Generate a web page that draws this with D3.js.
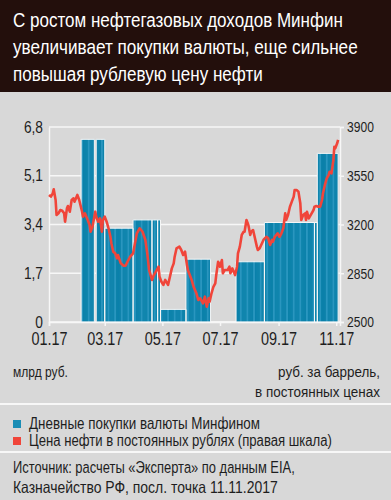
<!DOCTYPE html>
<html><head><meta charset="utf-8">
<script src="https://cdn.jsdelivr.net/npm/d3@7/dist/d3.min.js"></script>
<style>
html,body{margin:0;padding:0;background:#d8d8d8;}
svg text{font-family:"Liberation Sans",Arimo,sans-serif;}
</style></head>
<body><svg id="c" width="391" height="500"></svg>
<script>
// ---- data ----
const titleLines = ["С ростом нефтегазовых доходов Минфин","увеличивает покупки валюты, еще сильнее","повышая рублевую цену нефти"];
// purchase periods (start/end dates) and daily FX purchases, bn rub
const periodStart = ["2017-02-04","2017-02-20","2017-03-01","2017-03-31","2017-04-20","2017-04-26","2017-04-29","2017-05-26","2017-06-21","2017-07-18","2017-08-17","2017-10-09","2017-10-12"];
const periodEnd   = ["2017-02-18","2017-03-01","2017-03-31","2017-04-20","2017-04-26","2017-04-29","2017-05-26","2017-06-21","2017-07-18","2017-08-17","2017-10-09","2017-10-12","2017-11-03"];
const purchases   = [6.37,6.37,3.27,3.56,3.56,3.56,0.44,2.19,0,2.10,3.47,3.47,5.88];
// oil price in constant rubles: day of 2017 (0 = 1 Jan) and value
const oilDay = [0,2,4,5,7,8,10,12,14,16,17,19,20,22,24,26,27,30,32,35,36,38,41,43,44,46,49,50,52,54,56,57,59,61,63,65,66,68,70,72,73,76,79,81,84,86,89,91,93,96,99,102,104,106,109,111,114,116,117,119,121,123,126,128,130,132,133,135,138,140,142,144,146,147,149,151,153,156,158,160,163,165,167,169,170,172,174,176,177,179,181,183,184,186,189,191,192,194,197,199,200,202,204,206,207,209,211,213,214,216,218,220,221,223,227,230,232,234,236,237,239,242,244,246,248,250,251,253,255,257,259,260,262,264,266,267,269,271,272,273,275,276,278,280,281,283,285,287,289,290,292,294,296,297,299,301,302,303,305,306];
const oilPrice = [3412,3400,3424,3453,3376,3268,3280,3304,3299,3280,3220,3316,3333,3292,3376,3388,3364,3412,3376,3292,3256,3280,3232,3196,3148,3184,3292,3256,3220,3244,3148,3232,3256,3220,3173,3112,3065,3005,2993,2957,2981,2921,2904,2904,2945,2969,2993,3065,3137,3173,3148,3089,2993,2873,2802,2837,2873,2897,2825,2789,2766,2802,2766,2825,2885,2921,2969,3029,3041,3017,2981,3005,2909,2873,2837,2802,2753,2706,2658,2670,2634,2682,2610,2670,2646,2706,2753,2778,2837,2933,2897,2945,2850,2873,2873,2897,2850,2885,2837,2897,2993,3041,3125,3148,3148,3232,3196,3125,3148,3160,3101,3041,3017,3029,3089,3112,3101,3053,3089,3077,3112,3137,3112,3137,3173,3280,3232,3268,3328,3364,3400,3448,3448,3436,3352,3232,3268,3280,3232,3292,3244,3256,3280,3304,3328,3333,3328,3328,3376,3424,3484,3532,3555,3579,3567,3663,3758,3747,3783,3807];
const xTicks = ["2017-01-01","2017-03-01","2017-05-01","2017-07-01","2017-09-01","2017-11-01"];
const leftTicks = [0,1.7,3.4,5.1,6.8];
const rightTicks = [2500,2850,3200,3550,3900];
const legendItems = ["Дневные покупки валюты Минфином","Цена нефти в постоянных рублях (правая шкала)"];
const sourceLines = ["Источник: расчеты «Эксперта» по данным EIA,","Казначейство РФ, посл. точка 11.11.2017"];

// ---- drawing ----
const svg = d3.select("#c");
const BG="#d8d8d8", BLUE="#0a80a9", BLUE_L="#2a96bf", RED="#f0453a", WHITE="#f7f7f7", INK="#1e1e1e";
const parse = d3.timeParse("%Y-%m-%d");
const base = new Date(2017,0,1);
const L=49, R=340, T=127, B=322;
// squeeze text horizontally (narrow typeface of the original) by a factor, or to a target width
function squeeze(sel, f){
  sel.each(function(){
    const t = d3.select(this);
    const x0 = +(t.attr("x")||0);
    t.attr("x", x0/f).attr("transform", `scale(${f},1)`);
  });
}
function fitW(sel, w){
  sel.each(function(){
    const nat = this.getComputedTextLength();
    squeeze(d3.select(this), w/nat);
  });
}

svg.append("rect").attr("width",391).attr("height",500).attr("fill",BG);
svg.append("rect").attr("width",391).attr("height",92).attr("fill","#230f0c");
const titleW = [330,345,250];
svg.append("g").selectAll("text").data(titleLines).join("text")
  .attr("x",13).attr("y",(d,i)=>27+i*27).attr("fill","#fff")
  .attr("font-size",21).text(d=>d)
  .each(function(d,i){ fitW(d3.select(this), titleW[i]); });

const x = d3.scaleTime().domain([new Date(2017,0,1), new Date(2017,10,5)]).range([L,R]);
const yL = d3.scaleLinear().domain([0,6.8]).range([B,T]);
const yR = d3.scaleLinear().domain([2500,3900]).range([B,T]);

// gridlines
svg.append("g").selectAll("line").data(leftTicks).join("line")
  .attr("x1",L).attr("x2",R).attr("y1",d=>yL(d)).attr("y2",d=>yL(d))
  .attr("stroke",WHITE).attr("stroke-width",1.5);

// bars
const periods = periodStart.map((s,i)=>({s:parse(s), e:parse(periodEnd[i]), v:purchases[i]}));
const gBars = svg.append("g");
periods.filter(p=>p.v>0).forEach(p=>{
  gBars.append("rect").attr("x",x(p.s)).attr("width",x(p.e)-x(p.s))
    .attr("y",yL(p.v)).attr("height",yL(0)-yL(p.v)).attr("fill",BLUE_L);
  const days = d3.timeDay.range(p.s,p.e).filter(d=>d.getDay()!==0 && d.getDay()!==6);
  gBars.append("g").selectAll("rect").data(days).join("rect")
    .attr("x",d=>x(d)).attr("width",d=>x(d3.timeDay.offset(d,1))-x(d))
    .attr("y",yL(p.v)).attr("height",yL(0)-yL(p.v)).attr("fill",BLUE);
});
gBars.append("g").selectAll("path").data(periods).join("path")
  .attr("d",p=>`M${x(p.s)},${yL(0)}V${yL(p.v)}H${x(p.e)}V${yL(0)}Z`)
  .attr("fill","none").attr("stroke",WHITE).attr("stroke-width",1);

// axes
const fmtComma = d=>String(d).replace(".",",");
const gl = svg.append("g").attr("transform",`translate(${L},0)`)
  .call(d3.axisLeft(yL).tickValues(leftTicks).tickFormat(fmtComma).tickSize(0).tickPadding(6));
const gr = svg.append("g").attr("transform",`translate(${R},0)`)
  .call(d3.axisRight(yR).tickValues(rightTicks).tickFormat(d3.format("d")).tickSize(4).tickPadding(3));
const gb = svg.append("g").attr("transform",`translate(0,${B})`)
  .call(d3.axisBottom(x).tickValues(xTicks.map(parse)).tickFormat(d3.timeFormat("%m.%y")).tickSize(4).tickPadding(6));
[gl,gr,gb].forEach(g=>{
  g.select(".domain").attr("stroke",WHITE).attr("stroke-width",1.5);
  g.selectAll(".tick line").attr("stroke",WHITE).attr("stroke-width",1.5);
  g.selectAll("text").attr("fill",INK).attr("font-family",null);
});
gl.selectAll("text").attr("font-size",16).call(squeeze,0.86);
gr.selectAll("text").attr("font-size",15.5).call(squeeze,0.78);
gb.selectAll("text").attr("font-size",18.5).call(squeeze,0.78);

// oil line
const oil = oilDay.map((d,i)=>({d:d3.timeDay.offset(base,d), v:oilPrice[i]}));
svg.append("path").datum(oil)
  .attr("d",d3.line().x(d=>x(d.d)).y(d=>yR(d.v)))
  .attr("fill","none").attr("stroke",RED).attr("stroke-width",2.6).attr("stroke-linejoin","round");

// axis notes
svg.append("text").attr("x",13).attr("y",377).attr("font-size",15.5).attr("fill",INK).text("млрд руб.").call(fitW,55);
svg.append("text").attr("x",380).attr("y",377).attr("font-size",15.5).attr("fill",INK).attr("text-anchor","end").text("руб. за баррель,").call(fitW,102);
svg.append("text").attr("x",380).attr("y",397).attr("font-size",15.5).attr("fill",INK).attr("text-anchor","end").text("в постоянных ценах").call(fitW,125);

// separators
[404,452].forEach(yy=>svg.append("line").attr("x1",0).attr("x2",391).attr("y1",yy).attr("y2",yy).attr("stroke",WHITE).attr("stroke-width",2));

// legend
const legendW = [231,303];
const lg = svg.append("g").selectAll("g").data(legendItems).join("g")
  .attr("transform",(d,i)=>`translate(13,${420+i*17})`);
lg.append("rect").attr("width",8).attr("height",8).attr("fill",(d,i)=>i?RED:"#1a8db5");
lg.append("text").attr("x",16).attr("y",8.5).attr("font-size",16).attr("fill",INK).text(d=>d)
  .each(function(d){ fitW(d3.select(this), legendW[legendItems.indexOf(d)]); });

// source
const sourceW = [282,265];
svg.append("g").selectAll("text").data(sourceLines).join("text")
  .attr("x",13).attr("y",(d,i)=>473+i*20).attr("font-size",16.5).attr("fill",INK).text(d=>d)
  .each(function(d,i){ fitW(d3.select(this), sourceW[i]); });
</script></body></html>
